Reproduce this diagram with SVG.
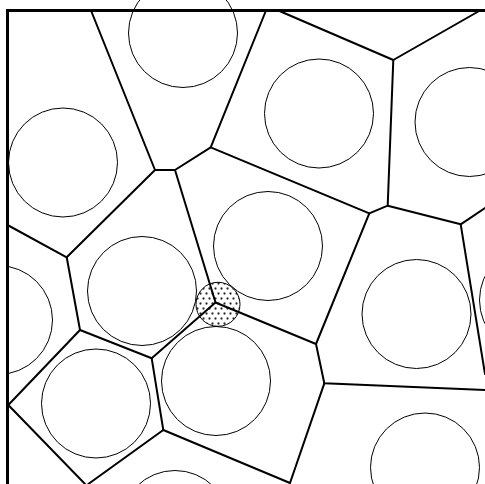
<svg xmlns="http://www.w3.org/2000/svg" width="485" height="484" viewBox="0 0 485 484">
<style>
.c{fill:none;stroke:#000;stroke-width:1}
.e{fill:none;stroke:#000;stroke-width:2;stroke-linecap:round;stroke-linejoin:round}
.f{fill:none;stroke:#000;stroke-width:3}
</style>
<defs>
<pattern id="dots" x="1" y="1" width="6" height="10" patternUnits="userSpaceOnUse">
<circle cx="1.5" cy="2.5" r="1.4" fill="#bbb"/>
<circle cx="1.5" cy="2.5" r="0.9" fill="#222"/>
<circle cx="4.5" cy="7.5" r="1.4" fill="#bbb"/>
<circle cx="4.5" cy="7.5" r="0.9" fill="#222"/>
</pattern>
<clipPath id="inside"><rect x="7.5" y="0" width="478" height="484"/></clipPath>
</defs>
<rect width="485" height="484" fill="#fff"/>
<g id="circles">
<circle class="c" cx="183" cy="33" r="54.5"/>
<circle class="c" cx="63" cy="162.5" r="54.5"/>
<circle class="c" cx="319" cy="113.5" r="54.5"/>
<circle class="c" cx="469.5" cy="122" r="54.5"/>
<circle class="c" cx="268" cy="246" r="54.5"/>
<circle class="c" cx="142" cy="291" r="54.5"/>
<circle class="c" cx="-2" cy="320" r="54.5" clip-path="url(#inside)"/>
<circle class="c" cx="96" cy="403.5" r="54.5"/>
<circle class="c" cx="216" cy="381" r="54.5"/>
<circle class="c" cx="175" cy="525" r="54.5"/>
<circle class="c" cx="416.5" cy="314" r="54.5"/>
<circle class="c" cx="534" cy="300" r="54.5"/>
<circle class="c" cx="425" cy="467.5" r="54.5"/>
</g>
<g id="marked">
<circle cx="218" cy="304.3" r="22" fill="url(#dots)" stroke="#000" stroke-width="1"/>
</g>
<g id="edges">
<polyline class="e" points="91,10.5 155,170 175,170 210.7,147.3 266,10.5"/>
<line class="e" x1="210.7" y1="147.3" x2="369.3" y2="213.3"/>
<polyline class="e" points="175,170 215.5,302.5 316,344 324.3,383.3 485,390"/>
<polyline class="e" points="155,170 66.7,257.3 80,330 151.7,358.3 215.5,302.5"/>
<line class="e" x1="7.5" y1="225" x2="66.7" y2="257.3"/>
<polyline class="e" points="80,330 8.3,405 85,484"/>
<polyline class="e" points="151.7,358.3 163.3,430 88.3,484"/>
<polyline class="e" points="163.3,430 290,483 324.3,383.3"/>
<polyline class="e" points="316,344 369.3,213.3 387.7,205.7 393.3,60 278.3,10.5"/>
<line class="e" x1="393.3" y1="60" x2="480" y2="10.5"/>
<polyline class="e" points="387.7,205.7 460.7,224.3 485,208"/>
<line class="e" x1="460.7" y1="224.3" x2="485" y2="374"/>
</g>
<g id="frame">
<line class="f" x1="7.5" y1="9" x2="7.5" y2="484"/>
<line class="f" x1="6" y1="10.5" x2="485" y2="10.5"/>
</g>
</svg>
